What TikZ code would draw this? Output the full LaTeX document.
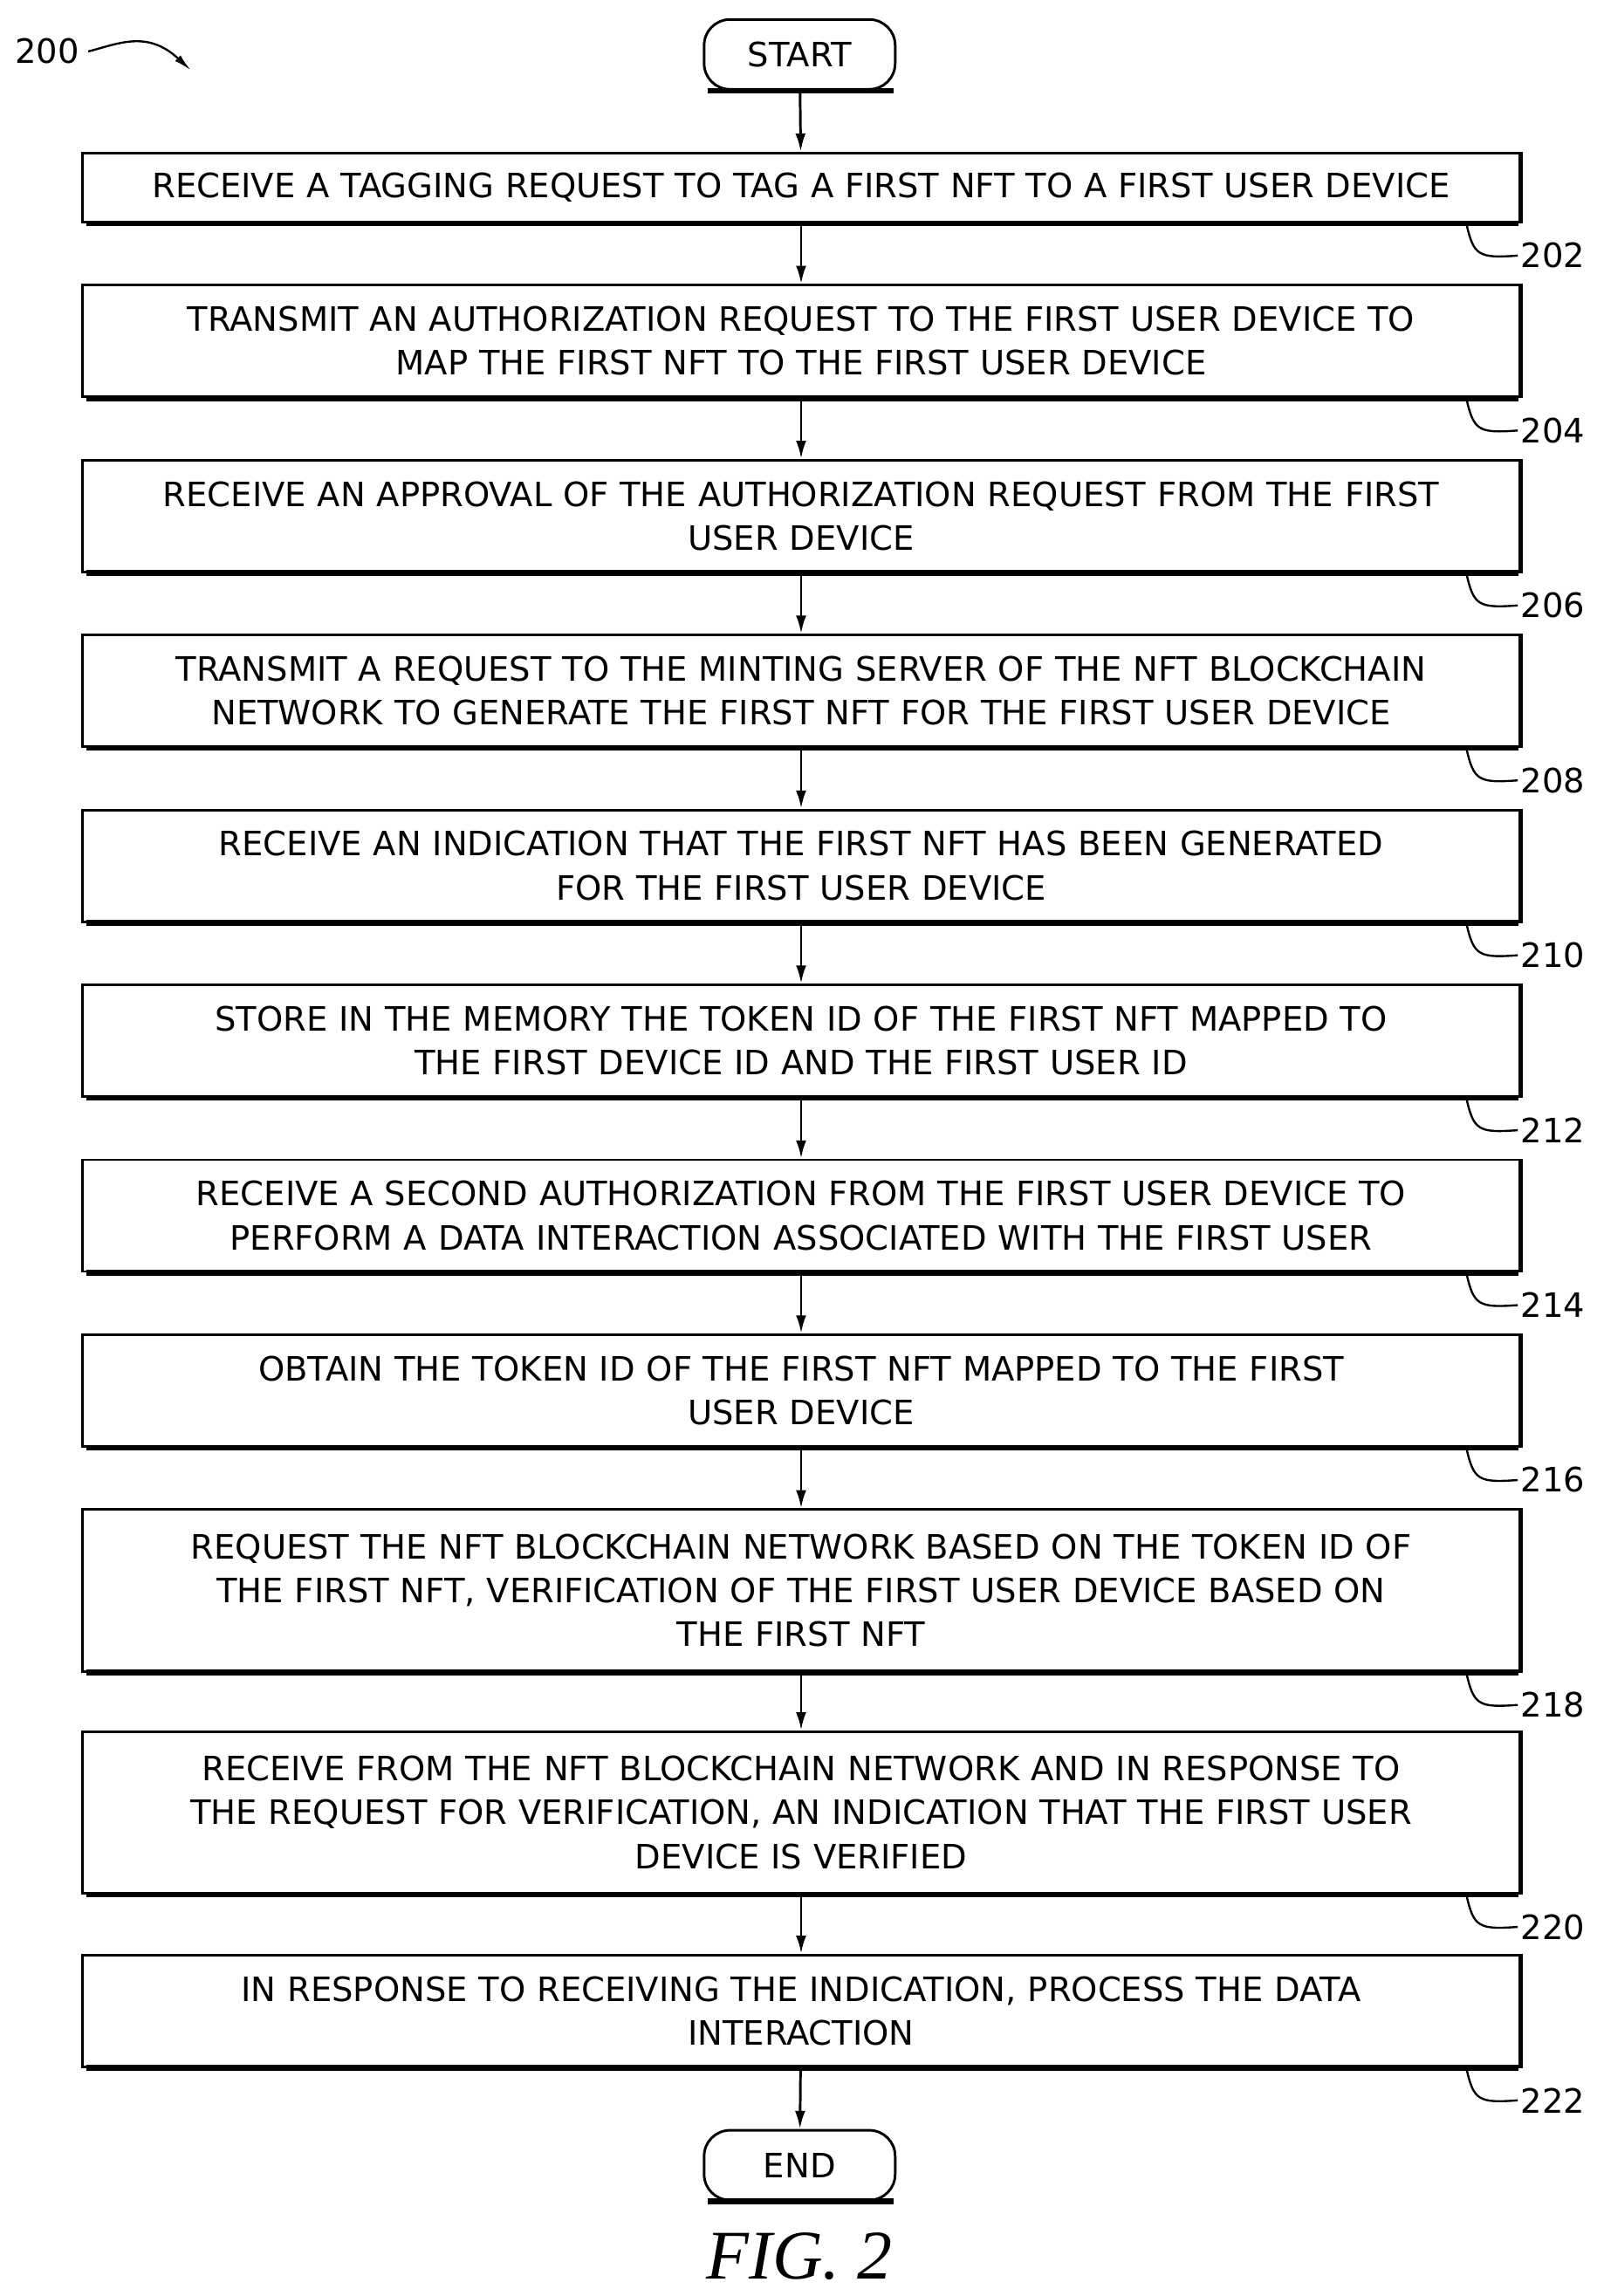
\documentclass[tikz,border=0pt]{standalone}
\usepackage{fontspec}
\setmainfont{DejaVu Sans}
\newfontfamily\figfont{Liberation Serif}
\usetikzlibrary{arrows.meta,positioning,calc}

\tikzset{
  stepbox/.style={draw, line width=1pt, minimum width=19.55cm, text width=19.4cm,
    align=center, inner sep=2pt, font=\fontsize{13}{17}\selectfont},
  term/.style={draw, line width=1pt, rounded corners=10pt, minimum width=2.6cm,
    minimum height=0.95cm, font=\fontsize{13}{15}\selectfont},
  flow/.style={-{Latex[length=7pt,width=4pt]}, line width=1pt},
  hook/.style={line width=0.8pt},
  reflabel/.style={anchor=west, inner sep=1pt, font=\fontsize{13}{15}\selectfont}
}

\begin{document}
\begin{tikzpicture}[x=0.02cm, y=-0.02cm]
    \useasboundingbox (0,0) rectangle (1086,1562);

    % Terminals
    \node[term] (start) at (544,37) {START};
    \node[term] (end) at (544,1473) {END};

    % Steps
    \node[stepbox, minimum height=0.94cm] (s202) at (545,127.5) {RECEIVE A TAGGING REQUEST TO TAG A FIRST NFT TO A FIRST USER DEVICE};
    \node[stepbox, minimum height=1.52cm] (s204) at (545,232) {TRANSMIT AN AUTHORIZATION REQUEST TO THE FIRST USER DEVICE TO\\MAP THE FIRST NFT TO THE FIRST USER DEVICE};
    \node[stepbox, minimum height=1.52cm] (s206) at (545,351) {RECEIVE AN APPROVAL OF THE AUTHORIZATION REQUEST FROM THE FIRST\\USER DEVICE};
    \node[stepbox, minimum height=1.52cm] (s208) at (545,470) {TRANSMIT A REQUEST TO THE MINTING SERVER OF THE NFT BLOCKCHAIN\\NETWORK TO GENERATE THE FIRST NFT FOR THE FIRST USER DEVICE};
    \node[stepbox, minimum height=1.52cm] (s210) at (545,589) {RECEIVE AN INDICATION THAT THE FIRST NFT HAS BEEN GENERATED\\FOR THE FIRST USER DEVICE};
    \node[stepbox, minimum height=1.52cm] (s212) at (545,708) {STORE IN THE MEMORY THE TOKEN ID OF THE FIRST NFT MAPPED TO\\THE FIRST DEVICE ID AND THE FIRST USER ID};
    \node[stepbox, minimum height=1.52cm] (s214) at (545,827) {RECEIVE A SECOND AUTHORIZATION FROM THE FIRST USER DEVICE TO\\PERFORM A DATA INTERACTION ASSOCIATED WITH THE FIRST USER};
    \node[stepbox, minimum height=1.52cm] (s216) at (545,946) {OBTAIN THE TOKEN ID OF THE FIRST NFT MAPPED TO THE FIRST\\USER DEVICE};
    \node[stepbox, minimum height=2.2cm] (s218) at (545,1082) {REQUEST THE NFT BLOCKCHAIN NETWORK BASED ON THE TOKEN ID OF\\THE FIRST NFT, VERIFICATION OF THE FIRST USER DEVICE BASED ON\\THE FIRST NFT};
    \node[stepbox, minimum height=2.2cm] (s220) at (545,1233) {RECEIVE FROM THE NFT BLOCKCHAIN NETWORK AND IN RESPONSE TO\\THE REQUEST FOR VERIFICATION, AN INDICATION THAT THE FIRST USER\\DEVICE IS VERIFIED};
    \node[stepbox, minimum height=1.52cm] (s222) at (545,1368) {IN RESPONSE TO RECEIVING THE INDICATION, PROCESS THE DATA\\INTERACTION};

    % Heavier bottom and right edges
    \foreach \n in {start,end,s202,s204,s206,s208,s210,s212,s214,s216,s218,s220,s222}{
        \draw[line width=2.2pt] ([xshift=2pt]\n.south west) -- ([xshift=-1pt]\n.south east);
    }
    \foreach \n in {s202,s204,s206,s208,s210,s212,s214,s216,s218,s220,s222}{
        \draw[line width=1.8pt] (\n.south east) -- (\n.north east);
    }

    % Flow
    \draw[flow] (start) -- (s202);
    \draw[flow] (s202) -- (s204);
    \draw[flow] (s204) -- (s206);
    \draw[flow] (s206) -- (s208);
    \draw[flow] (s208) -- (s210);
    \draw[flow] (s210) -- (s212);
    \draw[flow] (s212) -- (s214);
    \draw[flow] (s214) -- (s216);
    \draw[flow] (s216) -- (s218);
    \draw[flow] (s218) -- (s220);
    \draw[flow] (s220) -- (s222);
    \draw[flow] (s222) -- (end);

    % Reference numerals
    \foreach \n/\lbl in {s202/202,s204/204,s206/206,s208/208,s210/210,s212/212,s214/214,s216/216,s218/218,s220/220,s222/222}{
        \coordinate (h\lbl) at ($(\n.south east)+(-37,0)$);
        \coordinate (t\lbl) at ($(\n.south east)+(-2,22)$);
        \draw[hook] (h\lbl) .. controls ($(h\lbl)+(5,22)$) and ($(h\lbl)+(8,24)$) .. (t\lbl);
        \node[reflabel] (r\lbl) at (t\lbl) {\lbl};
    }

    % Figure label
    \node[font=\fontsize{13}{15}\selectfont] (n200) at (32,35) {200};
    \coordinate (a200) at (130,48);
    \draw[line width=0.8pt, -{Latex[length=7pt,width=3pt]}] (n200.east) .. controls (80,30) and (100,20) .. (a200);

    \node[font=\figfont\itshape\fontsize{27}{30}\selectfont] (fig) at (544,1535) {FIG. 2};
\end{tikzpicture}
\end{document}
